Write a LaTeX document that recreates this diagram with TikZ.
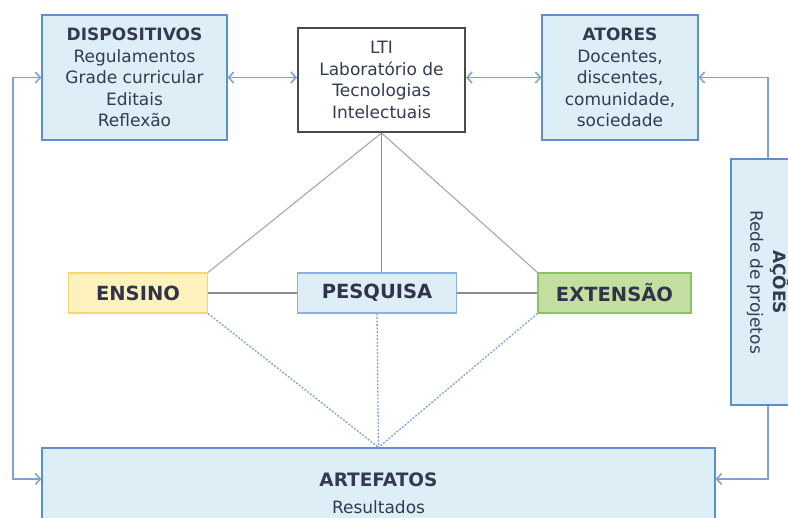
\documentclass[tikz,border=0pt]{standalone}
\usepackage{fontspec}
\setmainfont{DejaVu Sans}
\usetikzlibrary{arrows.meta}
\definecolor{azulcaixa}{HTML}{DDEEF7}
\definecolor{azulborda}{HTML}{5D8FCF}
\definecolor{azullinha}{HTML}{7EA3D8}
\definecolor{cinzalinha}{HTML}{A3A5BE}
\definecolor{amarelo}{HTML}{FDF1BD}
\definecolor{amareloborda}{HTML}{F4D76E}
\definecolor{verde}{HTML}{C3DF9F}
\definecolor{verdeborda}{HTML}{8DC163}
\definecolor{textoesc}{HTML}{343A52}

\begin{document}
\begin{tikzpicture}[x=1pt,y=-1pt]
\tikzset{caixa/.style={draw=azulborda, fill=azulcaixa, line width=1.2pt, inner sep=0pt, align=center, text=textoesc, font=\fontsize{17}{21.5}\selectfont}}
\tikzset{eixo/.style={draw, line width=1.2pt, inner sep=0pt, minimum height=40pt, text=textoesc!90!black, font=\bfseries\fontsize{19.5}{22}\selectfont}}
\tikzset{ligacao/.style={cinzalinha, line width=1.1pt}}
\tikzset{pontilhado/.style={azullinha, line width=1.3pt, dash pattern=on 2pt off 1.5pt}}
\tikzset{seta/.style={azullinha, line width=1.4pt, -{Straight Barb[length=5pt,width=11pt,line width=1.6pt]}}}
\tikzset{biseta/.style={seta, {Straight Barb[length=5pt,width=11pt,line width=1.6pt]}-{Straight Barb[length=5pt,width=11pt,line width=1.6pt]}}}
\useasboundingbox (0,0) rectangle (788,518);
\node[caixa, minimum width=185pt, minimum height=125pt] (Disp) at (134.5,77.5) {\textbf{DISPOSITIVOS}\\Regulamentos\\Grade curricular\\Editais\\Reflexão};
\node[caixa, draw=black!70, fill=white, line width=2pt, minimum width=167pt, minimum height=104pt] (LTI) at (381.5,80) {LTI\\Laboratório de\\Tecnologias\\Intelectuais};
\node[caixa, minimum width=156pt, minimum height=125pt] (Atores) at (620,77.5) {\textbf{ATORES}\\Docentes,\\discentes,\\comunidade,\\sociedade};
\node[caixa, rotate=-90, minimum width=246pt, minimum height=74pt, font=\fontsize{17}{23}\selectfont] (Acoes) at (768,282) {\textbf{AÇÕES}\\Rede de projetos};
\node[eixo, draw=amareloborda, fill=amarelo, minimum width=139pt] (Ensino) at (138,293) {ENSINO};
\node[eixo, draw=azulborda!70, fill=azulcaixa, minimum width=159pt] (Pesq) at (377,293) {PESQUISA};
\node[eixo, draw=verdeborda, fill=verde, minimum width=153pt] (Ext) at (614.5,293) {EXTENSÃO};
\node[caixa, minimum width=673pt, minimum height=91pt, font=\fontsize{17}{27}\selectfont] (Artef) at (378.5,493.5) {{\fontsize{18.5}{22}\selectfont\textbf{ARTEFATOS}}\\Resultados};
\coordinate (Esq) at (13,0);
\draw[biseta] (Disp.east) -- (Disp.east -| LTI.west);
\draw[biseta] (LTI.east |- Atores.west) -- (Atores.west);
\draw[seta] (Acoes.west) |- (Atores.east);
\draw[seta] (Acoes.east) |- ([yshift=14.5pt]Artef.east);
\draw[biseta] (Disp.west) -- (Disp.west -| Esq) -- ([yshift=14.5pt]Artef.west -| Esq) -- ([yshift=14.5pt]Artef.west);
\draw[ligacao] (LTI.south) -- (Ensino.north east);
\draw[ligacao] (LTI.south) -- (Ext.north west);
\draw[ligacao, black!45] (LTI.south) -- (LTI.south |- Pesq.north);
\draw[ligacao, black!45] (Ensino) -- (Pesq);
\draw[ligacao, black!45] (Pesq) -- (Ext);
\draw[pontilhado] (Ensino.south east) -- (Artef.north);
\draw[pontilhado] (Pesq.south) -- (Artef.north);
\draw[pontilhado] (Ext.south west) -- (Artef.north);
\end{tikzpicture}
\end{document}
